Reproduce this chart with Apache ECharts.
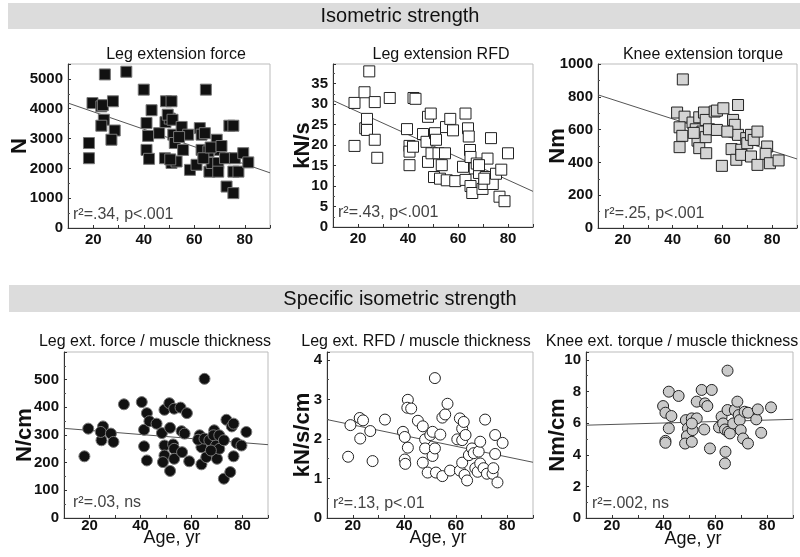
<!DOCTYPE html>
<html><head><meta charset="utf-8">
<script src="https://cdn.jsdelivr.net/npm/echarts@6/dist/echarts.min.js"></script>
<style>html,body{margin:0;padding:0;background:#fff}#c{width:800px;height:557px}</style>
</head><body><div id="c"></div>
<script>
// ---------- DATA ----------
const xTickLabels = [20, 40, 60, 80];
const sectionTitles = ['Isometric strength', 'Specific isometric strength'];
const panelTitles = ['Leg extension force', 'Leg extension RFD', 'Knee extension torque',
  'Leg ext. force / muscle thickness', 'Leg ext. RFD / muscle thickness', 'Knee ext. torque / muscle thickness'];
const yNames = ['N', 'kN/s', 'Nm', 'N/cm', 'kN/s/cm', 'Nm/cm'];
const statTexts = ['r²=.34, p<.001', 'r²=.43, p<.001', 'r²=.25, p<.001', 'r²=.03, ns', 'r²=.13, p<.01', 'r²=.002, ns'];
const yTicks1 = [0, 1000, 2000, 3000, 4000, 5000];
const yTicks2 = [0, 5, 10, 15, 20, 25, 30, 35];
const yTicks3 = [0, 200, 400, 600, 800, 1000];
const yTicks4 = [0, 100, 200, 300, 400, 500];
const yTicks5 = [0, 1, 2, 3, 4];
const yTicks6 = [0, 2, 4, 6, 8, 10];

const legForce = [[18.3,2850],[18.3,2340],[19.7,4190],[23.2,4080],[23.8,4120],[24.6,5150],[24.2,3630],[23.2,3430],[27.8,4250],[28.5,3270],[27.2,2960],[33.1,5240],[40,4640],[41.1,3520],[41.7,3090],[41.1,2620],[42.1,2320],[43.1,3950],[46.1,3180],[48.8,4250],[48.6,3550],[50.3,3670],[49.5,3800],[51,4250],[51.4,3630],[51.7,3130],[52.3,2850],[48.4,2340],[51,2180],[53,2230],[55,3390],[55.6,2620],[57.6,3130],[58.3,1950],[60.9,2120],[62.2,3350],[62.9,3130],[62.9,2620],[64.2,3180],[64.6,4640],[65.6,2570],[66,1890],[66.9,2180],[68.9,2960],[70.2,2620],[69.5,2180],[69.5,1890],[72.2,2340],[72.8,1390],[73.9,3430],[75.5,3430],[75.5,1890],[75.5,1170],[76.1,2340],[77.5,1890],[79.4,2510],[81.4,2200],[63.6,2340],[50.5,2300],[54,3050],[66.5,2700],[70.8,2750]];
const legRFD = [[18.6,19.8],[18.6,30.3],[22.6,32.9],[24.5,38.0],[22.9,24.1],[23.6,26.4],[23.6,23.7],[26.7,30.5],[26.7,21.3],[27.7,16.9],[32.7,31.5],[39.6,23.9],[40.6,19.8],[40.6,18.4],[40.6,15.1],[42.2,31.5],[43,31.3],[42,19.6],[46,22.7],[48,26.9],[49.1,27.7],[47.4,20.8],[48,15.9],[49.4,18],[50.8,22.9],[51.2,21.3],[52.2,18],[50.4,12.2],[52.8,11.8],[53.5,15.1],[54.8,18],[55.2,24.4],[56.9,26.4],[58,23.6],[55.5,11.4],[58.9,11.2],[62,14.7],[63,27.7],[64,24.1],[64.3,22.1],[64.8,18.8],[65,17.1],[63,11.5],[65,10],[65.7,8.3],[66.7,14.3],[67.5,15.5],[68.4,13.2],[69.8,9.3],[70.5,10.5],[71.1,12.2],[71.8,16.7],[73.2,21.7],[73.9,10.5],[75.2,13],[76.6,7.4],[77.3,14],[78.6,6.3],[80,18],[70.5,11.8],[68.4,15.1]];
const kneeTorque = [[44.1,906],[41.8,704],[44.8,679],[42.8,614],[43.9,562],[42.8,493],[48,643],[49.3,602],[50.7,675],[52.6,704],[53.3,659],[52,588],[50,533],[50.7,487],[53.3,554],[53.5,456],[54.6,602],[56.9,710],[57.8,716],[57.8,598],[59.8,379],[60.4,730],[64.3,659],[65,629],[66.3,750],[66.3,568],[63.7,481],[65.6,416],[67.6,477],[67.6,446],[69.6,548],[70,517],[71.5,568],[72.6,537],[74.1,588],[71.5,436],[74.1,385],[78,497],[77.4,452],[79.1,395],[82.6,412],[62,588],[48.5,580]];
const legForceMT = [[18,223],[19.5,323],[25.3,331],[24.7,281],[24.4,311],[28.4,305],[29.4,275],[33.5,411],[40.5,419],[41.4,319],[41.4,259],[42.5,379],[42.5,208],[43.5,350],[46.3,341],[48.4,307],[49.4,391],[49.4,262],[49.4,226],[48.8,202],[51.3,415],[51.6,326],[51.6,170],[52.8,266],[53.2,250],[53.2,214],[53.2,395],[55.7,399],[56.1,314],[56.3,238],[57.3,305],[58.2,379],[59.1,205],[63.2,299],[63.9,256],[63.9,194],[62.6,283],[65.1,503],[65.1,287],[65.8,220],[67,281],[68.9,317],[68.6,299],[69.6,262],[70,214],[70.9,299],[70.9,250],[72.7,281],[72.7,142],[73.7,355],[75.8,331],[76.5,341],[76.5,223],[75.2,166],[77.7,271],[79.6,262],[81.5,311],[67.6,244]];
const legRFDMT = [[18.2,1.55],[19.1,2.35],[22.7,2.53],[24,2.47],[22.9,2.01],[26.8,2.2],[27.7,1.44],[32.5,2.49],[39.5,2.18],[40.2,2.05],[41.4,2.99],[41.2,2.79],[42.7,2.77],[41.4,1.78],[40.2,1.48],[40.4,1.37],[45.3,2.46],[47.2,2.32],[48.1,1.99],[48.1,1.76],[47.2,1.4],[49.1,1.15],[50.1,2.1],[51,2.18],[51,1.57],[51.9,3.54],[51.9,1.76],[52.3,1.15],[54,2.11],[54.8,2.54],[55.9,2.62],[56.8,2.89],[54.8,1.06],[57.8,1.2],[60.6,1.99],[61.6,2.52],[62.5,2.26],[63.1,2.43],[62.5,1.97],[63.8,2.1],[61.6,1.2],[62.5,1.4],[63.4,1.09],[64.4,0.95],[65.1,1.59],[66.3,1.76],[67,1.64],[67.6,1.26],[68.5,1.17],[68.9,1.68],[69.5,1.93],[69.5,1.38],[70.8,1.26],[71.4,2.49],[72.1,1.12],[74.3,1.12],[74.6,1.26],[75.3,2.1],[75.3,1.62],[76.2,0.9],[78.2,1.9]];
const kneeTorqueMT = [[39.8,7.08],[40.7,6.66],[43,6.45],[42,7.99],[42,5.67],[40.7,4.88],[40.7,4.76],[45.8,7.72],[48.6,6.19],[49.4,5.67],[49,5.18],[48.3,4.71],[50.9,6.3],[51.2,5.56],[50.9,4.82],[52.8,6.3],[52.8,7.36],[54.7,8.1],[56,7.25],[56.9,7.08],[55.7,5.6],[57.9,4.4],[58.6,8.1],[61.4,5.73],[62.4,6.41],[63,5.98],[63.7,5.6],[63.9,4.19],[63.7,3.45],[64.7,6.83],[64.7,9.32],[64.9,5.45],[65.6,5.35],[66.9,5.98],[67.5,6.83],[68.5,7.36],[69,6.51],[69.4,6.19],[69.8,5.56],[70.7,5.03],[71.3,6.72],[72.6,6.66],[72.6,4.71],[75.8,6.24],[76.4,6.87],[77.7,5.39],[81.5,7.0],[50.9,5.98]];

// regression line end points (age 10 and age 90)
const fit1 = [[10,4190],[90,1850]];
const fit2 = [[10,30.9],[90,8.7]];
const fit3 = [[10,812],[90,421]];
const fit4 = [[10,324],[90,265]];
const fit5 = [[10,2.49],[90,1.41]];
const fit6 = [[10,5.87],[90,6.24]];

// ---------- LAYOUT / STYLE ----------
const FONT = "'Liberation Sans', Arial, sans-serif";
const panels = [
  {data: legForce, fit: fit1, ticks: yTicks1, max: 5500, interval: 1000, grid: {left: 68, top: 64, width: 202, height: 164}, gap: 37, xm: 4, sym: 'rect', fill: '#111', stroke: '#777', title: [176, 55], stat: [73, 215]},
  {data: legRFD, fit: fit2, ticks: yTicks2, max: 39.8, interval: 5, grid: {left: 333, top: 64, width: 200, height: 163}, gap: 19, xm: 4, sym: 'rect', fill: '#fff', stroke: '#222', title: [441, 55], stat: [338, 213]},
  {data: kneeTorque, fit: fit3, ticks: yTicks3, max: 1000, interval: 200, grid: {left: 598, top: 64, width: 200, height: 164}, gap: 29, xm: 4, sym: 'rect', fill: '#d4d4d4', stroke: '#222', title: [703, 55], stat: [604, 214]},
  {data: legForceMT, fit: fit4, ticks: yTicks4, max: 600, interval: 100, grid: {left: 64, top: 352, width: 204, height: 166}, gap: 28, xm: 0, sym: 'circle', fill: '#111', stroke: '#777', title: [155, 342], stat: [73, 503]},
  {data: legRFDMT, fit: fit5, ticks: yTicks5, max: 4.2, interval: 1, grid: {left: 327, top: 352, width: 206, height: 166}, gap: 13, xm: 0, sym: 'circle', fill: '#fff', stroke: '#222', title: [416, 342], stat: [333, 504]},
  {data: kneeTorqueMT, fit: fit6, ticks: yTicks6, max: 10.5, interval: 2, grid: {left: 586, top: 352, width: 207, height: 166}, gap: 17, xm: 0, sym: 'circle', fill: '#cacaca', stroke: '#222', title: [672, 342], stat: [592, 504]}
];
const ageNamePos = [[172, 538], [438, 538], [693, 539]];

const grids = [], xAxes = [], yAxes = [], series = [], graphics = [];
graphics.push({type: 'rect', shape: {x: 8, y: 3, width: 792, height: 26}, style: {fill: '#dcdcdc'}, silent: true});
graphics.push({type: 'rect', shape: {x: 9, y: 285, width: 791, height: 27}, style: {fill: '#dcdcdc'}, silent: true});
graphics.push({type: 'text', x: 400, y: 16, style: {text: sectionTitles[0], font: '20px ' + FONT, fill: '#111', textAlign: 'center', textVerticalAlign: 'middle'}});
graphics.push({type: 'text', x: 400, y: 299, style: {text: sectionTitles[1], font: '20px ' + FONT, fill: '#111', textAlign: 'center', textVerticalAlign: 'middle'}});

panels.forEach((p, i) => {
  grids.push(Object.assign({show: true, borderColor: '#bbb', borderWidth: 1, backgroundColor: 'transparent'}, p.grid));
  xAxes.push({
    type: 'value', gridIndex: i, min: 10, max: 90, interval: 10,
    axisLine: {lineStyle: {color: '#333', width: 1}, onZero: false},
    axisTick: {inside: true, length: 3, lineStyle: {color: '#333'}},
    splitLine: {show: false},
    axisLabel: {margin: p.xm, color: '#111', fontFamily: FONT, fontSize: 15, fontWeight: 'bold',
      formatter: v => xTickLabels.includes(v) ? String(v) : ''}
  });
  yAxes.push({
    type: 'value', gridIndex: i, min: 0, max: p.max, interval: p.interval,
    name: yNames[i], nameLocation: 'middle', nameGap: p.gap, nameMoveOverlap: false,
    nameTextStyle: {fontFamily: FONT, fontSize: 22, fontWeight: 'bold', color: '#111'},
    axisLine: {show: true, lineStyle: {color: '#333', width: 1}, onZero: false},
    axisTick: {show: true, inside: true, length: 3, lineStyle: {color: '#333'}},
    minorTick: {show: true, splitNumber: 2, length: 2, lineStyle: {color: '#555'}},
    splitLine: {show: false},
    axisLabel: {margin: 5, color: '#111', fontFamily: FONT, fontSize: 15, fontWeight: 'bold',
      formatter: v => p.ticks.includes(v) ? String(v) : ''}
  });
  series.push({
    type: 'line', xAxisIndex: i, yAxisIndex: i, data: p.fit, symbol: 'none', silent: true,
    lineStyle: {color: '#555', width: 1}, z: 1
  });
  series.push({
    type: 'scatter', xAxisIndex: i, yAxisIndex: i, data: p.data, symbol: p.sym, symbolSize: 11,
    itemStyle: {color: p.fill, borderColor: p.stroke, borderWidth: 1, opacity: 1}, z: 2
  });
  graphics.push({type: 'text', x: p.title[0], y: p.title[1], style: {text: panelTitles[i], font: '16px ' + FONT, fill: '#111', textAlign: 'center', textVerticalAlign: 'middle'}});
  graphics.push({type: 'text', x: p.stat[0], y: p.stat[1], style: {text: statTexts[i], font: '16px ' + FONT, fill: '#444', textAlign: 'left', textVerticalAlign: 'middle'}, z: 10});
});
ageNamePos.forEach(pos => {
  graphics.push({type: 'text', x: pos[0], y: pos[1], style: {text: 'Age, yr', font: '18px ' + FONT, fill: '#111', textAlign: 'center', textVerticalAlign: 'middle'}});
});

const chart = echarts.init(document.getElementById('c'), null, {renderer: 'canvas'});
chart.setOption({
  animation: false,
  backgroundColor: '#fff',
  grid: grids, xAxis: xAxes, yAxis: yAxes, series: series, graphic: graphics
});
</script></body></html>
